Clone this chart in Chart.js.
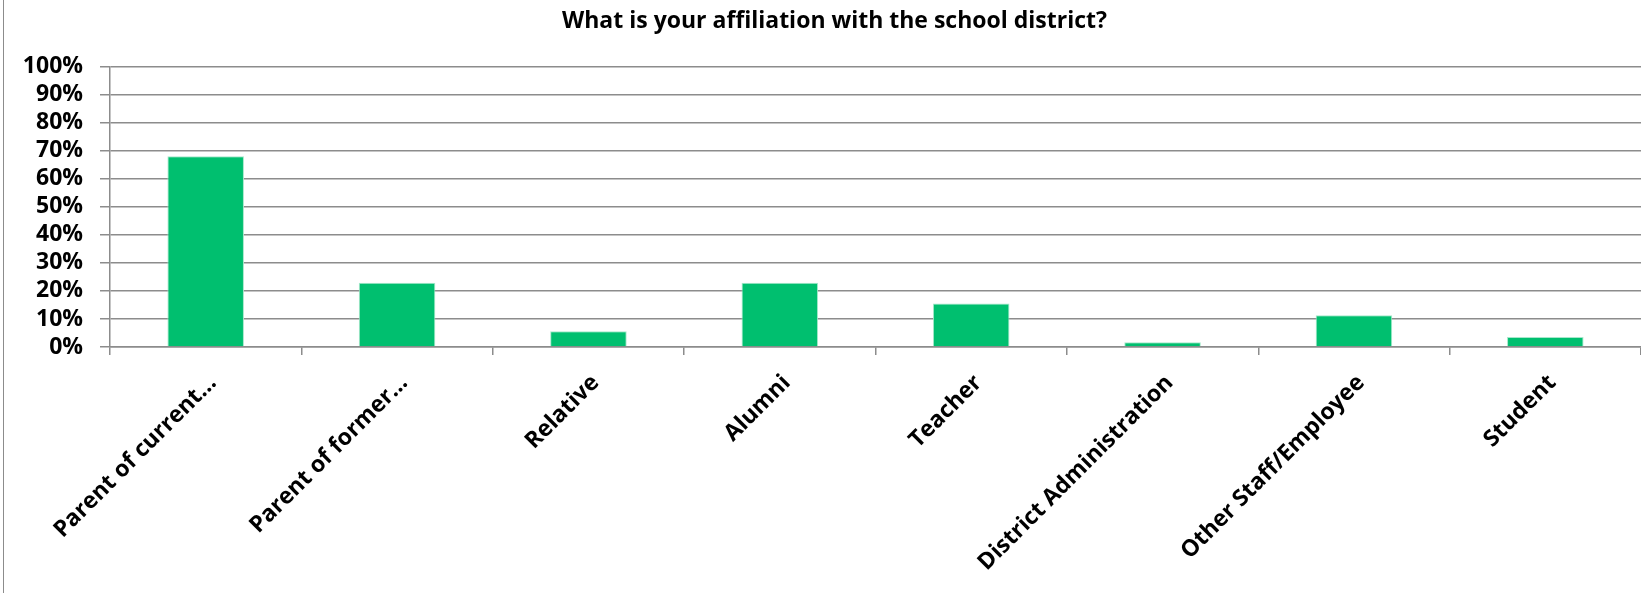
<!DOCTYPE html>
<html>
<head>
<meta charset="utf-8">
<script src="https://cdn.jsdelivr.net/npm/chart.js@4.4.1/dist/chart.umd.min.js"></script>
<style>
  html, body { margin: 0; padding: 0; background: #fff; }
  #wrap { position: relative; width: 1641px; height: 593px; }
  #edge { position: absolute; left: 3px; top: 0; bottom: 0; border-left: 1px solid #8c8c8c; }
</style>
</head>
<body>
<div id="wrap">
  <canvas id="myChart"></canvas>
  <div id="edge"></div>
</div>
<script>
var chartTitle = 'What is your affiliation with the school district?';

var categories = [
  'Parent of current\u2026',
  'Parent of former\u2026',
  'Relative',
  'Alumni',
  'Teacher',
  'District Administration',
  'Other Staff/Employee',
  'Student'
];

// share of respondents, in percent
var percents = [68, 22.9, 5.6, 22.9, 15.5, 1.7, 11.3, 3.6];

var yTicks = [0, 10, 20, 30, 40, 50, 60, 70, 80, 90, 100];

var gridGray = '#8c8c8c';
var labelFont = { family: "'Open Sans', sans-serif", size: 23, weight: 'bold', lineHeight: 1 };

// nudge the title a little right, like the original
var shiftTitle = {
    id: 'shiftTitle',
    afterLayout: function (chart) {
        if (chart.titleBlock) {
            chart.titleBlock.left = 28;
        }
    }
};

const ctx = document.getElementById('myChart');

var graphData = {
    type: 'bar',
    data: {
        labels: categories,
        datasets: [{
            label: 'Affiliation',
            data: percents,
            backgroundColor: '#00bf6f',
            borderColor: '#a6e8cb',
            borderWidth: 1,
            categoryPercentage: 1,
            barPercentage: 0.4
        }]
    },
    options: {
        responsive: true,
        maintainAspectRatio: false,
        animation: false,
        layout: { padding: { left: 0, right: 0, top: 0, bottom: 0 } },
        plugins: {
            legend: { display: false },
            tooltip: { enabled: false },
            title: {
                display: true,
                text: chartTitle,
                color: '#000',
                font: { family: "'Open Sans', sans-serif", size: 23, weight: 'bold' },
                padding: { top: 8, bottom: 31 }
            }
        },
        scales: {
            x: {
                grid: {
                    offset: true,
                    drawOnChartArea: false,
                    color: gridGray,
                    lineWidth: 1.5,
                    tickLength: 8
                },
                border: { display: true, color: gridGray, width: 1.5 },
                ticks: {
                    color: '#000',
                    font: labelFont,
                    minRotation: 45,
                    maxRotation: 45,
                    autoSkip: false,
                    padding: 16,
                    labelOffset: 7
                },
                afterFit: function (scale) { scale.height = 246; }
            },
            y: {
                min: 0,
                max: 100,
                afterBuildTicks: function (scale) {
                    scale.ticks = yTicks.map(function (v) { return { value: v }; });
                },
                grid: {
                    color: gridGray,
                    lineWidth: 1.5,
                    tickLength: 10
                },
                border: { display: true, color: gridGray, width: 1.5 },
                ticks: {
                    color: '#000',
                    font: labelFont,
                    autoSkip: false,
                    padding: 17,
                    callback: function (v) { return v + '%'; }
                },
                afterFit: function (scale) { scale.width = 110; }
            }
        }
    },
    plugins: [shiftTitle]
};

var myChart = new Chart(ctx, graphData);
</script>
</body>
</html>
